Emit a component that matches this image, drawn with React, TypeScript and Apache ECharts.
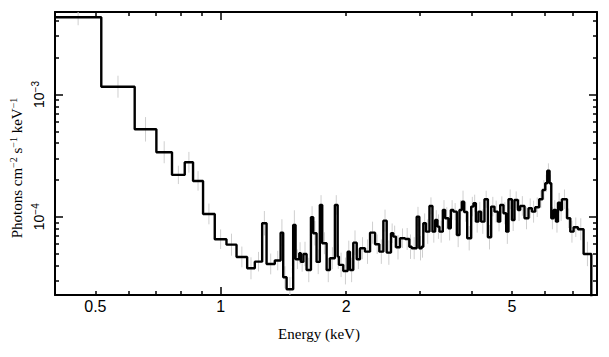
import React, { useEffect, useRef } from "react";
import * as echarts from "echarts";

// Bin edges (keV) of the step histogram
const binEdgesKeV = [
  0.4, 0.5166, 0.6214, 0.7005, 0.7637, 0.8194, 0.8579, 0.9067, 0.9673, 1.032,
  1.091, 1.157, 1.207, 1.257, 1.288, 1.348, 1.392, 1.412, 1.439, 1.492,
  1.512, 1.543, 1.557, 1.579, 1.607, 1.646, 1.667, 1.698, 1.729, 1.752,
  1.795, 1.828, 1.879, 1.908, 1.921, 1.968, 2.016, 2.042, 2.08, 2.12,
  2.159, 2.219, 2.282, 2.346, 2.402, 2.456, 2.502, 2.562, 2.595, 2.634,
  2.693, 2.769, 2.835, 2.873, 2.953, 2.996, 3.036, 3.063, 3.109, 3.169,
  3.222, 3.27, 3.312, 3.349, 3.412, 3.456, 3.519, 3.566, 3.618, 3.687,
  3.741, 3.791, 3.839, 3.904, 3.991, 4.042, 4.096, 4.155, 4.217, 4.295,
  4.377, 4.457, 4.539, 4.626, 4.685, 4.771, 4.843, 4.905, 4.998, 5.07,
  5.167, 5.233, 5.359, 5.479, 5.583, 5.686, 5.813, 5.92, 6.01, 6.077,
  6.155, 6.213, 6.293, 6.377, 6.448, 6.531, 6.592, 6.777, 6.902, 7.029,
  7.202, 7.429, 7.752, 8.0,
];

// Flux per bin (photons cm^-2 s^-1 keV^-1)
const fluxValues = [
  4.28e-3, 1.158e-3, 5.19e-4, 3.37e-4, 2.2e-4, 2.79e-4, 1.963e-4, 1.054e-4, 6.55e-5, 5.91e-5,
  4.69e-5, 3.79e-5, 4.29e-5, 8.85e-5, 4.11e-5, 4.38e-5, 7.41e-5, 3.2e-5, 2.55e-5, 8.57e-5,
  4.49e-5, 5.03e-5, 4.27e-5, 4.96e-5, 3.67e-5, 9.91e-5, 7.33e-5, 4.27e-5, 1.249e-4, 6.07e-5,
  3.67e-5, 4.58e-5, 1.249e-4, 4.72e-5, 4.04e-5, 3.6e-5, 5.18e-5, 3.67e-5, 6.14e-5, 4.49e-5,
  5.53e-5, 5.18e-5, 7.41e-5, 5.96e-5, 5.18e-5, 9.29e-5, 5.09e-5, 7.33e-5, 6.88e-5, 5.63e-5,
  6.67e-5, 6.58e-5, 5.69e-5, 5.53e-5, 1.002e-4, 5.53e-5, 5.69e-5, 8.85e-5, 7.55e-5, 1.226e-4,
  7.55e-5, 9.41e-5, 8.3e-5, 7.55e-5, 1.137e-4, 9.72e-5, 8.05e-5, 1.137e-4, 1.101e-4, 7.1e-5,
  1.137e-4, 1.329e-4, 1.095e-4, 6.67e-5, 1.21e-4, 1.29e-4, 9.12e-5, 1.101e-4, 9.12e-5, 1.39e-4,
  6.8e-5, 1.21e-4, 1.101e-4, 9.12e-5, 1.249e-4, 1.068e-4, 7.55e-5, 1.39e-4, 9.41e-5, 1.372e-4,
  1.137e-4, 1.226e-4, 9.72e-5, 1.174e-4, 1.101e-4, 1.196e-4, 1.39e-4, 1.656e-4, 1.879e-4, 2.381e-4,
  1.879e-4, 9.72e-5, 1.137e-4, 9.12e-5, 1.304e-4, 1.137e-4, 1.39e-4, 9.72e-5, 7.55e-5, 8.2e-5,
  7.9e-5, 4.96e-5, 1.2e-5,
];

// Half-length of each error bar, in decades
const fluxErrDex = [
  0.065, 0.09, 0.1, 0.09, 0.075, 0.085, 0.08, 0.085, 0.08, 0.09,
  0.085, 0.09, 0.08, 0.1, 0.085, 0.08, 0.11, 0.09, 0.1, 0.12,
  0.08, 0.09, 0.08, 0.1, 0.1, 0.09, 0.1, 0.1, 0.08, 0.09,
  0.1, 0.09, 0.08, 0.1, 0.1, 0.11, 0.09, 0.1, 0.1, 0.08,
  0.09, 0.1, 0.09, 0.08, 0.1, 0.09, 0.1, 0.08, 0.09, 0.1,
  0.08, 0.09, 0.1, 0.09, 0.08, 0.1, 0.09, 0.08, 0.1, 0.07,
  0.09, 0.08, 0.1, 0.09, 0.08, 0.09, 0.1, 0.08, 0.07, 0.1,
  0.08, 0.09, 0.08, 0.1, 0.08, 0.07, 0.09, 0.08, 0.1, 0.07,
  0.1, 0.08, 0.09, 0.08, 0.07, 0.09, 0.1, 0.08, 0.09, 0.07,
  0.09, 0.08, 0.09, 0.08, 0.09, 0.08, 0.07, 0.08, 0.07, 0.06,
  0.07, 0.09, 0.08, 0.09, 0.08, 0.09, 0.08, 0.08, 0.09, 0.08,
  0.09, 0.1, 0.12,
];

const xRangeKeV = [0.4, 8.0];
const yRangeFlux = [2.29e-5, 4.73e-3];
const xTickLabels = [0.5, 1, 2, 5];
const xMajorTicks = [1];
const xMinorTicks = [0.5, 0.6, 0.7, 0.8, 0.9, 2, 3, 4, 5, 6, 7];
const yTickLabels = [1e-4, 1e-3];
const yMajorTicks = [1e-4, 1e-3];
const yMinorTicks = [
  3e-5, 4e-5, 5e-5, 6e-5, 7e-5, 8e-5, 9e-5,
  2e-4, 3e-4, 4e-4, 5e-4, 6e-4, 7e-4, 8e-4, 9e-4,
  2e-3, 3e-3, 4e-3,
];

const lg = (v: number) => Math.log10(v);
const SANS = "Liberation Sans";
const SERIF = "Liberation Serif";

export default function App() {
  const ref = useRef<HTMLDivElement>(null);

  useEffect(() => {
    if (!ref.current) return;
    const chart = echarts.init(ref.current, null, { renderer: "svg" });

    const xMin = lg(xRangeKeV[0]);
    const xMax = lg(xRangeKeV[1]);
    const yMin = lg(yRangeFlux[0]);
    const yMax = lg(yRangeFlux[1]);
    const axisLineStyle = { color: "#000", width: 2 };
    const tickStyle = { color: "#000", width: 1.5 };

    const makeAxis = (
      position: string,
      min: number,
      max: number,
      ticks: number[],
      len: number,
      showLine: boolean,
      label: any
    ) => ({
      type: "value",
      position,
      min,
      max,
      axisLine: { show: showLine, onZero: false, lineStyle: axisLineStyle },
      axisTick: {
        show: true,
        inside: true,
        length: len,
        customValues: ticks.map(lg),
        lineStyle: tickStyle,
      },
      axisLabel: label || { show: false },
      splitLine: { show: false },
      axisPointer: { show: false },
    });

    const xLabel = {
      show: true,
      customValues: xTickLabels.map(lg),
      formatter: (v: number) => String(+Math.pow(10, v).toPrecision(3)),
      fontFamily: SANS,
      fontSize: 16,
      color: "#000",
      margin: 3,
    };
    const yLabel = {
      show: true,
      customValues: yTickLabels.map(lg),
      rotate: 90,
      formatter: (v: number) => "10{s|−" + Math.round(-v) + "}",
      fontFamily: SANS,
      fontSize: 14,
      lineHeight: 17,
      color: "#000",
      margin: 8,
      rich: {
        s: { fontFamily: SANS, fontSize: 10, lineHeight: 10, verticalAlign: "top", color: "#000" },
      },
    };

    const stepData = binEdgesKeV.map((e, i) => [
      lg(e),
      lg(fluxValues[Math.min(i, fluxValues.length - 1)]),
    ]);

    const errData: number[][] = [];
    fluxValues.forEach((f, i) => {
      if (f < yRangeFlux[0]) return;
      const c = (lg(binEdgesKeV[i]) + lg(binEdgesKeV[i + 1])) / 2;
      errData.push([c, lg(f) - fluxErrDex[i], lg(f) + fluxErrDex[i]]);
    });

    chart.setOption({
      animation: false,
      backgroundColor: "#fff",
      grid: { left: 55, right: 12, top: 12, bottom: 62, containLabel: false },
      xAxis: [
        makeAxis("bottom", xMin, xMax, xMajorTicks, 8, true, xLabel),
        makeAxis("bottom", xMin, xMax, xMinorTicks, 4, false, null),
        makeAxis("top", xMin, xMax, xMajorTicks, 8, true, null),
        makeAxis("top", xMin, xMax, xMinorTicks, 4, false, null),
      ],
      yAxis: [
        makeAxis("left", yMin, yMax, yMajorTicks, 8, true, yLabel),
        makeAxis("left", yMin, yMax, yMinorTicks, 4, false, null),
        makeAxis("right", yMin, yMax, yMajorTicks, 8, true, null),
        makeAxis("right", yMin, yMax, yMinorTicks, 4, false, null),
      ],
      series: [
        {
          type: "custom",
          xAxisIndex: 0,
          yAxisIndex: 0,
          clip: true,
          silent: true,
          z: 1,
          data: errData,
          encode: { x: 0, y: [1, 2] },
          renderItem: (_params: any, api: any) => {
            const p1 = api.coord([api.value(0), api.value(1)]);
            const p2 = api.coord([api.value(0), api.value(2)]);
            return {
              type: "line",
              shape: { x1: p1[0], y1: p1[1], x2: p2[0], y2: p2[1] },
              style: { stroke: "#cfcfcf", lineWidth: 1 },
            };
          },
        },
        {
          type: "line",
          xAxisIndex: 0,
          yAxisIndex: 0,
          step: "end",
          symbol: "none",
          clip: true,
          silent: true,
          z: 3,
          data: stepData,
          lineStyle: { color: "#000", width: 2.4 },
        },
      ],
      graphic: [
        {
          type: "text",
          x: 319,
          y: 334,
          style: {
            text: "Energy (keV)",
            font: '15px "Liberation Serif"',
            fill: "#000",
            align: "center",
            verticalAlign: "middle",
            textAlign: "center",
            textVerticalAlign: "middle",
          },
        },
        {
          type: "text",
          x: 17,
          y: 168,
          rotation: Math.PI / 2,
          style: {
            text: "{n|Photons cm}{s|−2}{n| s}{s|−1}{n| keV}{s|−1}",
            fill: "#000",
            align: "center",
            verticalAlign: "middle",
            textAlign: "center",
            textVerticalAlign: "middle",
            rich: {
              n: { fontFamily: SERIF, fontSize: 15, lineHeight: 18, fill: "#000" },
              s: { fontFamily: SERIF, fontSize: 10, lineHeight: 10, verticalAlign: "top", fill: "#000" },
            },
          },
        },
      ],
    });

    return () => chart.dispose();
  }, []);

  return (
    <div
      ref={ref}
      style={{ position: "absolute", left: 0, top: 0, width: 609, height: 357 }}
    />
  );
}
